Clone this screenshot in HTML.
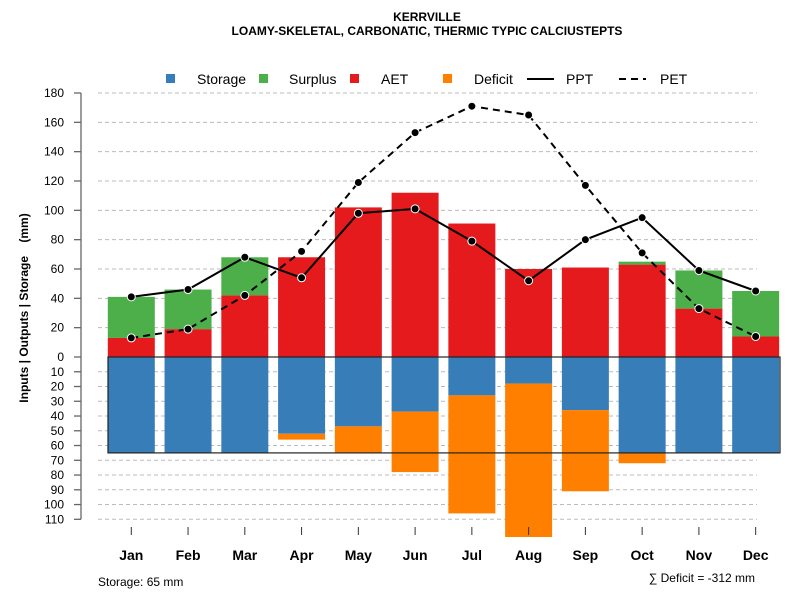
<!DOCTYPE html>
<html><head><meta charset="utf-8"><style>
body{margin:0;background:#fff;width:800px;height:600px;overflow:hidden}
svg{font-family:"Liberation Sans",sans-serif}
</style></head><body>
<svg id="c" width="800" height="600">
<defs><clipPath id="clip"><rect x="0" y="88" width="800" height="450"/></clipPath></defs>
<text x="427" y="21" text-anchor="middle" font-size="12" font-weight="bold">KERRVILLE</text>
<text x="427" y="35" text-anchor="middle" font-size="12" font-weight="bold">LOAMY-SKELETAL, CARBONATIC, THERMIC TYPIC CALCIUSTEPTS</text>
<g id="legend" font-size="14">
<rect x="166" y="74" width="9" height="9" fill="#377EB8"/>
<text x="197" y="84">Storage</text>
<rect x="259" y="74" width="9" height="9" fill="#4DAF4A"/>
<text x="289" y="84">Surplus</text>
<rect x="350" y="74" width="9" height="9" fill="#E41A1C"/>
<text x="381" y="84">AET</text>
<rect x="443" y="74" width="9" height="9" fill="#FF7F00"/>
<text x="474" y="84">Deficit</text>
<line x1="527" y1="79" x2="554" y2="79" stroke="#000" stroke-width="2"/>
<text x="566" y="84">PPT</text>
<line x1="619" y1="79" x2="646" y2="79" stroke="#000" stroke-width="2" stroke-dasharray="7,5"/>
<text x="660" y="84">PET</text>
</g>
<text transform="translate(28,308) rotate(-90)" text-anchor="middle" font-size="12" font-weight="bold" style="white-space:pre" xml:space="preserve">Inputs | Outputs | Storage    (mm)</text>
<text x="98" y="586" font-size="12">Storage: 65 mm</text>
<text x="755" y="582" text-anchor="end" font-size="12">∑ Deficit = -312 mm</text>
</svg>
<script>
const months=["Jan","Feb","Mar","Apr","May","Jun","Jul","Aug","Sep","Oct","Nov","Dec"];
const aet=[13,19,42,68,102,112,91,60,61,63,33,14];
const surplus=[28,27,26,0,0,0,0,0,0,2,26,31];
const ppt=[41,46,68,54,98,101,79,52,80,95,59,45];
const pet=[13,19,42,72,119,153,171,165,117,71,33,14];
const storage=[65,65,65,52,47,37,26,18,36,65,65,65];
const deficit=[0,0,0,4,18,41,80,104,55,7,0,0];
const capacity=65;
const topTicks=[0,20,40,60,80,100,120,140,160,180];
const botTicks=[10,20,30,40,50,60,70,80,90,100,110];

const NS="http://www.w3.org/2000/svg";
const svg=document.getElementById('c');
const Y0=357;
function yUp(v){return Y0-v*264/180;}
function yDn(v){return Y0+v*1.4755;}
function xc(i){return 131.3+i*56.76;}
const BW=47;
function mk(tag,attrs,parent){const e=document.createElementNS(NS,tag);for(const k in attrs)e.setAttribute(k,attrs[k]);(parent||svg).appendChild(e);return e;}

const grid=mk('g',{});


const axis=mk('g',{});


mk('line',{x1:81,y1:yUp(180),x2:81,y2:yDn(110),stroke:'#666','stroke-width':1.3},axis);
topTicks.forEach(t=>{
  const y=yUp(t);
  if(t>0){mk('line',{x1:98,y1:y,x2:757,y2:y,stroke:'#bbb','stroke-dasharray':'4,3'},grid);}
  mk('line',{x1:74,y1:y,x2:81,y2:y,stroke:'#666','stroke-width':1.3},axis);
  const tx=mk('text',{x:64,y:y+4,'text-anchor':'end','font-size':12},axis);
  tx.textContent=t;
  
  
});
botTicks.forEach(t=>{
  const y=yDn(t);
  mk('line',{x1:98,y1:y,x2:757,y2:y,stroke:'#bbb','stroke-dasharray':'4,3'},grid);
  mk('line',{x1:74,y1:y,x2:81,y2:y,stroke:'#666','stroke-width':1.3},axis);
  const tx=mk('text',{x:64,y:y+4,'text-anchor':'end','font-size':12},axis);
  tx.textContent=t;
  
  
});

const bars=mk('g',{'clip-path':'url(#clip)'});


months.forEach((m,i)=>{
  const x=xc(i)-BW/2;
  const r1=mk('rect',{x:x,y:yUp(aet[i]),width:BW,height:yUp(0)-yUp(aet[i]),fill:'#E41A1C'},bars);
  
  
  if(surplus[i]>0){
    const r2=mk('rect',{x:x,y:yUp(aet[i]+surplus[i]),width:BW,height:yUp(aet[i])-yUp(aet[i]+surplus[i]),fill:'#4DAF4A'},bars);
    
    
  }
  const r3=mk('rect',{x:x,y:Y0,width:BW,height:yDn(storage[i])-Y0,fill:'#377EB8'},bars);
  
  
  if(deficit[i]>0){
    const r4=mk('rect',{x:x,y:yDn(storage[i]),width:BW,height:yDn(storage[i]+deficit[i])-yDn(storage[i]),fill:'#FF7F00'},bars);
    
    
  }
  const tk=mk('line',{x1:xc(i),y1:527,x2:xc(i),y2:535,stroke:'#333'});
  
  
  const lb=mk('text',{x:xc(i),y:560,'text-anchor':'middle','font-size':14,'font-weight':'bold'});
  lb.textContent=m;
  
  
});
const box=mk('rect',{x:108,y:Y0,width:672,height:yDn(capacity)-Y0,fill:'none',stroke:'#222','stroke-width':1.2});



function series(vals,dash,name){
  const pts=vals.map((v,i)=>xc(i)+','+yUp(v)).join(' ');
  const pl=mk('polyline',{points:pts,fill:'none',stroke:'#000','stroke-width':2,'stroke-dasharray':dash});
  
  
  vals.forEach((v,i)=>{
    const c=mk('circle',{cx:xc(i),cy:yUp(v),r:4,fill:'#000',stroke:'#fff','stroke-width':1});
    
    
  });
}
series(pet,'7,5','pet');
series(ppt,'none','ppt');
</script>
</body></html>
